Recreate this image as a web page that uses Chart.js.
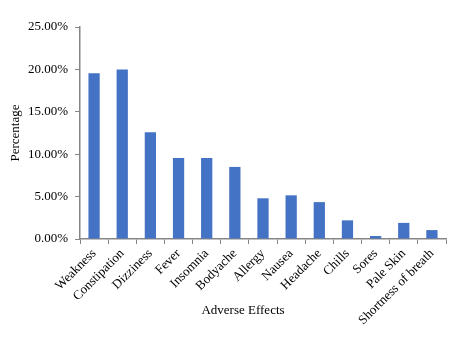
<!DOCTYPE html>
<html>
<head>
<meta charset="utf-8">
<script src="https://cdn.jsdelivr.net/npm/chart.js@4.4.0/dist/chart.umd.min.js"></script>
<style>
    html, body { margin: 0; padding: 0; background: #ffffff; }
    #wrap { width: 461px; height: 340px; }
</style>
</head>
<body>
<div id="wrap"><canvas id="chart_adverse-effects"></canvas></div>
<script>
// data
var categories = ['Weakness', 'Constipation', 'Dizziness', 'Fever', 'Insomnia', 'Bodyache',
    'Allergy', 'Nausea', 'Headache', 'Chills', 'Sores', 'Pale Skin', 'Shortness of breath'];
var percentages = [19.55, 20.0, 12.6, 9.55, 9.55, 8.5, 4.8, 5.15, 4.35, 2.2, 0.35, 1.9, 1.05];
var yTicks = [0, 5, 10, 15, 20, 25];

var axisColor = '#868686';
var serif = '"Liberation Serif", "Times New Roman", serif';

// x title drawn by hand so it can sit where the original has it
var xTitlePlugin = {
    id: 'xTitle',
    afterDraw: function (chart) {
        var ctx = chart.ctx;
        ctx.save();
        ctx.font = '13px ' + serif;
        ctx.fillStyle = '#000000';
        ctx.textAlign = 'center';
        ctx.textBaseline = 'middle';
        ctx.fillText('Adverse Effects', 243, 311);
        ctx.restore();
    }
};

new Chart(document.getElementById('chart_adverse-effects'), {
    type: 'bar',
    data: {
        labels: categories,
        datasets: [{
            data: percentages,
            backgroundColor: '#4472C4',
            barPercentage: 0.4,
            categoryPercentage: 1
        }]
    },
    options: {
        responsive: true,
        maintainAspectRatio: false,
        animation: false,
        layout: {
            padding: { top: 27, right: 15, left: 0, bottom: 0 }
        },
        plugins: {
            legend: { display: false },
            tooltip: { enabled: false }
        },
        scales: {
            x: {
                offset: true,
                grid: {
                    offset: true,
                    drawOnChartArea: false,
                    drawTicks: true,
                    tickLength: 5,
                    color: axisColor
                },
                border: { color: axisColor, width: 1.5 },
                ticks: {
                    autoSkip: false,
                    minRotation: 45,
                    maxRotation: 45,
                    padding: 2,
                    color: '#000000',
                    font: { family: serif, size: 13 }
                },
                afterFit: function (scale) { scale.height = 101; }
            },
            y: {
                min: 0,
                max: 25,
                afterBuildTicks: function (scale) {
                    scale.ticks = yTicks.map(function (v) { return { value: v }; });
                },
                grid: {
                    drawOnChartArea: false,
                    drawTicks: true,
                    tickLength: 5,
                    color: axisColor
                },
                border: { color: axisColor, width: 1.5 },
                ticks: {
                    padding: 7,
                    color: '#000000',
                    font: { family: serif, size: 13 },
                    callback: function (v) { return v.toFixed(2) + '%'; }
                },
                title: {
                    display: true,
                    text: 'Percentage',
                    color: '#000000',
                    font: { family: serif, size: 13 },
                    padding: { top: 8, bottom: 0 }
                },
                afterFit: function (scale) { scale.width = 80; }
            }
        }
    },
    plugins: [xTitlePlugin]
});
</script>
</body>
</html>
